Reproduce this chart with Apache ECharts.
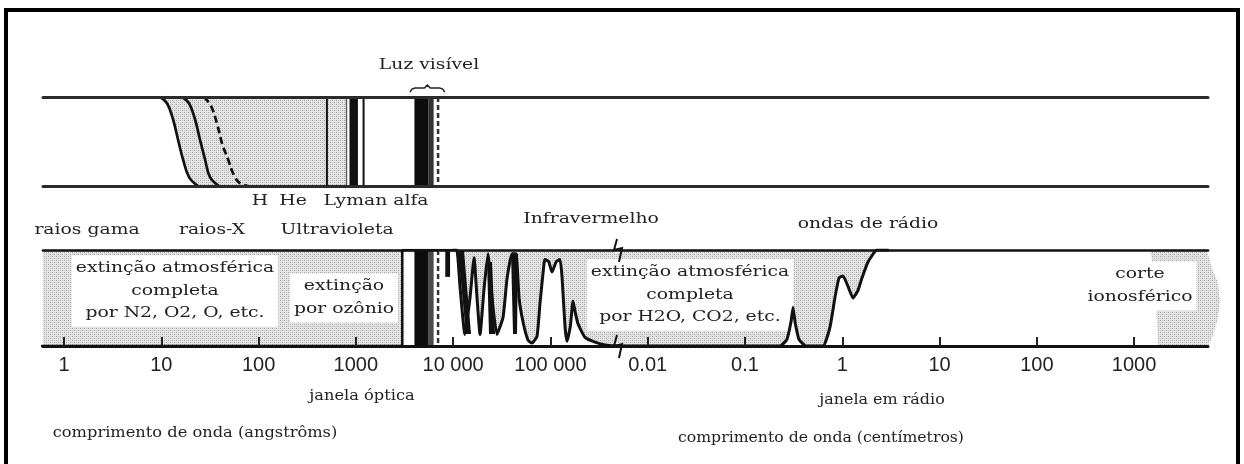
<!DOCTYPE html>
<html lang="pt">
<head>
<meta charset="utf-8">
<title>Janelas atmosféricas</title>
<script src="https://cdn.jsdelivr.net/npm/echarts@6.0.0/dist/echarts.min.js"></script>
<style>
  html, body { margin: 0; padding: 0; background: #fff; }
  #chart { width: 1244px; height: 464px; }
</style>
</head>
<body>
<div id="chart"></div>
<script>
// Wavelength scale in angstroms (1 cm = 1e8 Å)
const CM = 1e8;
const axisMinA = 0.608;
const axisMaxA = 5.75e11;
const tickValuesA = [1, 10, 100, 1000, 1e4, 1e5, 1e6, 1e7, 1e8, 1e9, 1e10, 1e11];
const tickLabels = ['1', '10', '100', '1000', '10 000', '100 000', '0.01', '0.1', '1', '10', '100', '1000'];

// Ground-level transmission, [Å, fraction] (0 = opaque, 1 = transparent)
const uvTransmission = [[0.5, 0], [3000, 0], [3000, 1], [10000, 1]];
const irTransmission = [
  [10000, 1], [10900, 1], [11800, 0.6], [13200, 0.12], [14900, 0.5], [16400, 0.92],
  [17600, 0.5], [18900, 0.12], [20800, 0.6], [22800, 0.96], [25100, 0.5], [28200, 0.12],
  [32600, 0.3], [35800, 0.7], [40300, 0.96], [44300, 0.96], [47600, 0.5], [52300, 0.25],
  [58900, 0.06], [64700, 0.03], [72800, 0.1], [78200, 0.45], [86000, 0.86], [88000, 0.9],
  [96000, 0.88], [103800, 0.77], [115000, 0.88], [125500, 0.9], [131600, 0.72], [141300, 0.2],
  [148100, 0.05], [160000, 0.2], [170800, 0.47], [180000, 0.35], [192200, 0.23], [226900, 0.09],
  [287400, 0.04], [364100, 0.01], [500000, 0]
];
// Unresolved absorption bands in the near infrared, [Å, fraction] outlines
const irBands = [
  [[11230, 0.99], [12940, 0.99], [15270, 0.125], [13560, 0.125]],
  [[22300, 0.875], [25100, 0.875], [26950, 0.125], [23380, 0.125]],
  [[39360, 0.96], [46450, 0.96], [45360, 0.125], [41270, 0.125]]
];
// Radio part, [cm, fraction]
const radioTransmissionCm = [
  [0.229, 0], [0.270, 0.07], [0.297, 0.25], [0.312, 0.4], [0.327, 0.25], [0.359, 0.07],
  [0.424, 0], [0.634, 0], [0.749, 0.2], [0.843, 0.51], [0.927, 0.71], [1.018, 0.73],
  [1.146, 0.62], [1.29, 0.5], [1.452, 0.58], [1.597, 0.71], [1.84, 0.875], [2.277, 1], [3, 1]
];
// Ionospheric cut-off outline, [cm, fraction]
const ionosphereCm = [
  [1459, 1], [1528, 0.875], [1600, 0.7], [1680, 0.48], [1720, 0.25], [1762, 0],
  [5754, 0], [6478, 0.115], [7291, 0.29], [7643, 0.48], [7291, 0.656], [6330, 0.81], [5754, 0.95], [5623, 1]
];

// Optical features, Å
const visibleBand = [4000, 5600];
const visibleEdge = [5600, 6300];
const visibleLimit = 7000;
const visibleBrace = [3600, 8200];
const nearIrBand = [8300, 9300];
const nearIrDepth = 0.72;
const scaleBreakA = 4.95e5;

// Upper strip: X-ray absorption fronts, [Å, height]
const xrayFront1 = [[9.7, 1], [11.45, 0.93], [13.2, 0.75], [14.86, 0.52], [16.72, 0.3], [19.28, 0.1], [23.85, 0]];
const xrayFront2 = [[16.33, 1], [19.28, 0.93], [22.22, 0.75], [25.0, 0.52], [28.14, 0.3], [31.68, 0.1], [39.2, 0]];
const xrayFront3 = [[27.5, 1], [32.4, 0.9], [37.4, 0.7], [42.1, 0.48], [48.5, 0.3], [55.9, 0.12], [64.5, 0.03], [77.9, 0]];
const uvShadeEnd = 774;
const heliumEdge = 504;
const uvLine = 800;
const hydrogenBand = [860, 1050];
const lymanAlpha = 1200;

// Fine halftone used for the opaque regions
function halftone() {
  const c = document.createElement('canvas');
  c.width = 4; c.height = 4;
  const g = c.getContext('2d');
  g.fillStyle = '#e4e4e4'; g.fillRect(0, 0, 4, 4);
  g.fillStyle = '#a4a4a4'; g.fillRect(0, 0, 1, 1); g.fillRect(2, 2, 1, 1);
  g.fillStyle = '#c4c4c4'; g.fillRect(2, 0, 1, 1); g.fillRect(0, 2, 1, 1);
  return { image: c, repeat: 'repeat' };
}
const shade = halftone();

const toA = (arr) => arr.map(p => [p[0] * CM, p[1]]);

// Shapes drawn through the axes
function renderShape(it, api) {
  switch (it.kind) {
    case 'rect': {
      const a = api.coord([it.from, it.hi]), b = api.coord([it.to, it.lo]);
      return { type: 'rect', shape: { x: a[0], y: a[1], width: b[0] - a[0], height: b[1] - a[1] }, style: { fill: it.fill } };
    }
    case 'vline': {
      const a = api.coord([it.at, it.hi]), b = api.coord([it.at, it.lo]);
      return { type: 'line', shape: { x1: a[0], y1: a[1], x2: b[0], y2: b[1] },
        style: { stroke: it.stroke, lineWidth: it.width, lineDash: it.dash || null } };
    }
    case 'poly':
      return { type: 'polygon', shape: { points: it.pts.map(p => api.coord(p)) }, style: { fill: it.fill || shade } };
    case 'curve':
      return { type: 'polyline', shape: { points: it.pts.map(p => api.coord(p)), smooth: 0.4 },
        style: { stroke: '#111', fill: null, lineWidth: 2.7, lineDash: it.dash || null } };
    case 'brace': {
      const a = api.coord([it.from, it.level]), b = api.coord([it.to, it.level]);
      const y = a[1], x1 = a[0], x2 = b[0], xm = (x1 + x2) / 2;
      return { type: 'polyline', shape: { points: [[x1, y + 4], [x1 + 2, y + 1], [x1 + 5, y], [xm - 3, y], [xm, y - 3],
        [xm + 3, y], [x2 - 5, y], [x2 - 2, y + 1], [x2, y + 4]] }, style: { stroke: '#222', lineWidth: 1.5, fill: null } };
    }
    case 'break': {
      const c = api.coord([it.at, it.level]);
      return { type: 'group', children: [
        { type: 'rect', shape: { x: c[0] - 3, y: c[1] - 3, width: 7, height: 6 }, style: { fill: '#fff' } },
        { type: 'polyline', shape: { points: [[c[0] - 1, c[1] - 11], [c[0] - 4, c[1]], [c[0] + 4, c[1] - 2], [c[0] + 1, c[1] + 12]] },
          style: { stroke: '#111', lineWidth: 2, fill: null } }
      ] };
    }
  }
}
function anchorOf(it) {
  if (it.pts) return it.pts[0][0];
  return it.from || it.at;
}
function shapesSeries(xi, yi, items, z) {
  return {
    type: 'custom', xAxisIndex: xi, yAxisIndex: yi, z: z, silent: true, clip: false,
    data: items.map(it => [anchorOf(it), 0.5]),
    encode: { x: 0, y: 1 },
    renderItem: (params, api) => renderShape(items[params.dataIndex], api)
  };
}

const lowerShades = [
  { kind: 'poly', pts: toA(ionosphereCm) }
];
const lowerMarks = [
  { kind: 'rect', from: visibleBand[0], to: visibleBand[1], lo: 0, hi: 1, fill: '#0d0d0d' },
  { kind: 'rect', from: visibleEdge[0], to: visibleEdge[1], lo: 0, hi: 1, fill: '#4a4a4a' },
  { kind: 'vline', at: visibleLimit, lo: 0, hi: 1, stroke: '#333', width: 2.5, dash: [5, 3] },
  { kind: 'rect', from: nearIrBand[0], to: nearIrBand[1], lo: nearIrDepth, hi: 1, fill: '#111' },
  { kind: 'break', at: scaleBreakA, level: 1 },
  { kind: 'break', at: scaleBreakA, level: 0 }
].concat(irBands.map(pts => ({ kind: 'poly', pts, fill: '#111' })));
const upperShades = [
  { kind: 'poly', pts: xrayFront1.concat([[uvShadeEnd, 0], [uvShadeEnd, 1]]) }
];
const upperMarks = [
  { kind: 'curve', pts: xrayFront1 },
  { kind: 'curve', pts: xrayFront2 },
  { kind: 'curve', pts: xrayFront3, dash: [7, 4] },
  { kind: 'vline', at: heliumEdge, lo: 0, hi: 1, stroke: '#111', width: 2 },
  { kind: 'vline', at: uvLine, lo: 0, hi: 1, stroke: '#555', width: 1.5 },
  { kind: 'rect', from: hydrogenBand[0], to: hydrogenBand[1], lo: 0, hi: 1, fill: '#111' },
  { kind: 'vline', at: lymanAlpha, lo: 0, hi: 1, stroke: '#111', width: 2 },
  { kind: 'rect', from: visibleBand[0], to: visibleBand[1], lo: 0, hi: 1, fill: '#0d0d0d' },
  { kind: 'rect', from: visibleEdge[0], to: visibleEdge[1], lo: 0, hi: 1, fill: '#333' },
  { kind: 'vline', at: visibleLimit, lo: 0, hi: 1, stroke: '#333', width: 2.5, dash: [5, 3] },
  { kind: 'brace', from: visibleBrace[0], to: visibleBrace[1], level: 1.1 }
];

// Annotation layout
const serif = '"DejaVu Serif", "Liberation Serif", serif';
const annotations = [
  { text: 'Luz visível', x: 429, y: 65, sx: 1.34 },
  { text: 'H', x: 260, y: 201, sx: 1.34 },
  { text: 'He', x: 293, y: 201, sx: 1.34 },
  { text: 'Lyman alfa', x: 376, y: 201, sx: 1.34 },
  { text: 'raios gama', x: 87, y: 230, sx: 1.34 },
  { text: 'raios-X', x: 212, y: 230, sx: 1.34 },
  { text: 'Ultravioleta', x: 337, y: 230, sx: 1.34 },
  { text: 'Infravermelho', x: 591, y: 219, sx: 1.34 },
  { text: 'ondas de rádio', x: 868, y: 224, sx: 1.34 },
  { text: 'extinção atmosférica\ncompleta\npor N2, O2, O, etc.', x: 175, y: 291, sx: 1.34, box: true },
  { text: 'extinção\npor ozônio', x: 344, y: 298, sx: 1.34, box: true },
  { text: 'extinção atmosférica\ncompleta\npor H2O, CO2, etc.', x: 690, y: 295, sx: 1.34, box: true },
  { text: 'corte\nionosférico', x: 1140, y: 286, sx: 1.34, box: true },
  { text: 'janela óptica', x: 362, y: 396, sx: 1.16 },
  { text: 'comprimento de onda (angstrôms)', x: 195, y: 433, sx: 1.16 },
  { text: 'janela em rádio', x: 882, y: 400, sx: 1.14 },
  { text: 'comprimento de onda (centímetros)', x: 821, y: 438, sx: 1.12 }
];

const lineOnly = (gridIndex, position, width, color) => ({
  type: 'log', logBase: 10, gridIndex, position, min: axisMinA, max: axisMaxA, z: 6,
  axisLine: { show: true, lineStyle: { color, width } },
  axisTick: { show: false }, axisLabel: { show: false }, splitLine: { show: false }
});

function tickText(v) {
  const i = tickValuesA.findIndex(t => Math.abs(Math.log10(t / v)) < 1e-6);
  return i >= 0 ? tickLabels[i] : '';
}

// Transmission curve: halftone fill above it (z 1), stroke on top (z 3)
function transmission(data, smooth, width) {
  return [
    {
      type: 'line', xAxisIndex: 0, yAxisIndex: 0, data, showSymbol: false, silent: true, z: 1, smooth,
      lineStyle: { width: 0 },
      areaStyle: { color: shade, opacity: 1, origin: 'end' }
    },
    {
      type: 'line', xAxisIndex: 0, yAxisIndex: 0, data, showSymbol: false, silent: true, z: 3, smooth,
      lineStyle: { color: '#111', width }
    }
  ];
}

const option = {
  animation: false,
  backgroundColor: '#fff',
  grid: [
    { left: 43, right: 36, top: 250, height: 96 },
    { left: 43, right: 36, top: 97, height: 89 }
  ],
  xAxis: [
    {
      type: 'log', logBase: 10, gridIndex: 0, position: 'bottom', min: axisMinA, max: axisMaxA, z: 6,
      axisLine: { show: true, lineStyle: { color: '#111', width: 3 } },
      axisTick: { show: true, inside: true, length: 9, customValues: tickValuesA, lineStyle: { color: '#222', width: 2 } },
      axisLabel: {
        show: true, customValues: tickValuesA, formatter: tickText, margin: 9,
        fontFamily: '"Liberation Sans", Arial, sans-serif', fontSize: 20, color: '#222'
      },
      splitLine: { show: false }
    },
    lineOnly(0, 'top', 2.6, '#111'),
    lineOnly(1, 'bottom', 3, '#2b2b2b'),
    lineOnly(1, 'top', 3, '#2b2b2b')
  ],
  yAxis: [
    { type: 'value', gridIndex: 0, min: 0, max: 1, show: false },
    { type: 'value', gridIndex: 1, min: 0, max: 1, show: false }
  ],
  series: [].concat(
    transmission(uvTransmission, false, 2.5),
    transmission(irTransmission.concat(toA(radioTransmissionCm)), 0.15, 3),
    [
      shapesSeries(0, 0, lowerShades, 1),
      shapesSeries(0, 0, lowerMarks, 3),
      shapesSeries(2, 1, upperShades, 1),
      shapesSeries(2, 1, upperMarks, 3)
    ]
  ),
  graphic: annotations.map(a => ({
    type: 'text', x: a.x, y: a.y, scaleX: a.sx, z: a.box ? 2 : 20, silent: true,
    style: Object.assign({
      text: a.text, fontFamily: serif, fontSize: 14, fill: '#222',
      align: 'center', verticalAlign: 'middle', lineHeight: 22.5
    }, a.box ? { backgroundColor: '#fff', padding: [2, 3] } : {})
  })).concat([{
    type: 'rect', z: 30, silent: true,
    shape: { x: 6, y: 10, width: 1232, height: 480 },
    style: { fill: 'none', stroke: '#000', lineWidth: 4 }
  }])
};

const chart = echarts.init(document.getElementById('chart'));
chart.setOption(option);
</script>
</body>
</html>
